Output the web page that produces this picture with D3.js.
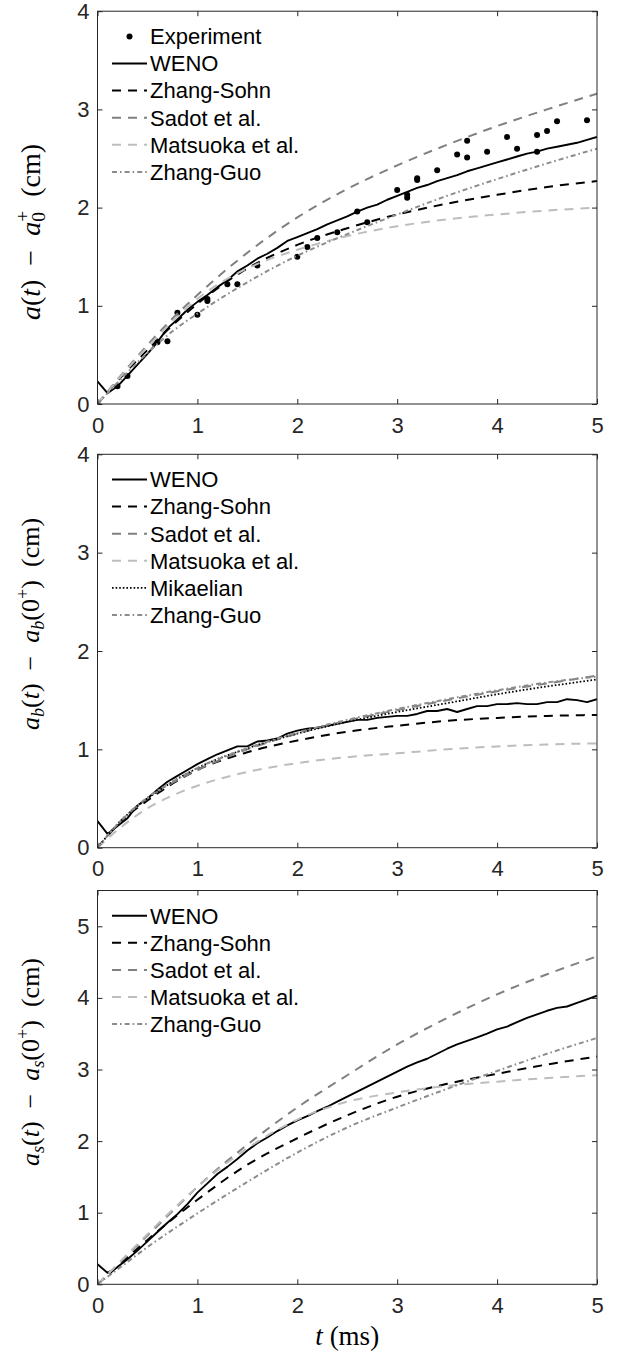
<!DOCTYPE html>
<html>
<head>
<meta charset="utf-8">
<script src="https://cdn.jsdelivr.net/npm/d3@7"></script>
<style>
  body { margin: 0; background: #fff; }
  svg { display: block; }
</style>
</head>
<body>
<svg id="chart" width="617" height="1356"></svg>
<script>
// ---------- data ----------
const xTicks = [0, 1, 2, 3, 4, 5];
const yTicks1 = [0, 1, 2, 3, 4];
const yTicks2 = [0, 1, 2, 3, 4];
const yTicks3 = [0, 1, 2, 3, 4, 5];

// time grid of the WENO simulations (ms)
const tWeno = [0,0.1,0.2,0.3,0.4,0.5,0.6,0.7,0.8,0.9,1.0,1.1,1.2,1.3,1.4,1.5,1.6,1.7,1.8,1.9,2.0,
  2.1,2.2,2.3,2.4,2.5,2.6,2.7,2.8,2.9,3.0,3.1,3.2,3.3,3.4,3.5,3.6,3.7,3.8,3.9,4.0,
  4.1,4.2,4.3,4.4,4.5,4.6,4.7,4.8,4.9,5.0];
// time grid of the model curves (ms)
const tModel = [0, 0.25, 0.5, 0.75, 1, 1.5, 2, 2.5, 3, 3.5, 4, 4.5, 5];

// panel 1: a(t) - a0+
const expT = [0,0.2,0.3,0.6,0.7,0.8,1.0,1.1,1.1,1.3,1.4,1.6,2.0,2.1,2.2,2.4,2.6,2.7,3.0,3.1,3.1,3.2,3.2,3.4,3.6,3.7,3.7,3.9,4.1,4.2,4.4,4.4,4.5,4.6,4.9];
const expV = [0,0.18,0.285,0.63,0.64,0.93,0.91,1.07,1.05,1.22,1.22,1.41,1.50,1.60,1.69,1.75,1.96,1.85,2.18,2.13,2.10,2.30,2.28,2.38,2.54,2.68,2.51,2.57,2.72,2.60,2.74,2.57,2.78,2.88,2.89];
const weno1 = [0.23,0.11,0.18,0.29,0.40,0.51,0.63,0.77,0.86,0.96,1.04,1.11,1.19,1.26,1.35,1.41,1.48,1.53,1.59,1.66,1.70,
  1.74,1.78,1.83,1.87,1.91,1.96,2.00,2.03,2.08,2.12,2.16,2.20,2.23,2.27,2.30,2.33,2.37,2.40,2.43,2.46,
  2.49,2.52,2.55,2.57,2.60,2.62,2.64,2.66,2.69,2.72];
const zhangSohn1 = [0,0.29,0.55,0.80,1.02,1.38,1.62,1.79,1.93,2.04,2.13,2.21,2.27];
const sadot1     = [0,0.31,0.60,0.87,1.11,1.54,1.90,2.19,2.43,2.64,2.83,3.00,3.16];
const matsuoka1  = [0,0.30,0.58,0.84,1.07,1.38,1.57,1.71,1.81,1.88,1.93,1.97,2.00];
const zhangGuo1  = [0,0.27,0.52,0.74,0.92,1.24,1.51,1.73,1.93,2.12,2.29,2.45,2.60];

// panel 2: ab(t) - ab(0+)
const weno2 = [0.27,0.14,0.22,0.30,0.43,0.50,0.59,0.67,0.73,0.79,0.85,0.90,0.95,0.99,1.03,1.03,1.08,1.09,1.11,1.16,1.19,
  1.21,1.22,1.24,1.26,1.28,1.30,1.30,1.32,1.33,1.34,1.34,1.36,1.39,1.39,1.41,1.38,1.41,1.44,1.44,1.46,
  1.46,1.47,1.46,1.46,1.48,1.48,1.51,1.50,1.48,1.51];
const zhangSohn2 = [0,0.28,0.48,0.65,0.79,0.97,1.09,1.18,1.24,1.29,1.32,1.34,1.35];
const sadot2     = [0,0.29,0.50,0.66,0.79,1.00,1.16,1.29,1.40,1.50,1.59,1.67,1.75];
const matsuoka2  = [0,0.22,0.40,0.53,0.63,0.77,0.86,0.92,0.96,1.00,1.03,1.05,1.06];
const mikaelian2 = [0,0.29,0.50,0.67,0.81,1.01,1.16,1.28,1.38,1.47,1.56,1.64,1.71];
const zhangGuo2  = [0,0.29,0.51,0.67,0.81,1.01,1.17,1.30,1.41,1.51,1.60,1.68,1.74];

// panel 3: as(t) - as(0+)
const weno3 = [0.28,0.16,0.24,0.35,0.47,0.60,0.73,0.86,0.98,1.12,1.28,1.41,1.54,1.64,1.75,1.87,1.97,2.05,2.14,2.22,2.29,
  2.35,2.42,2.48,2.55,2.62,2.69,2.76,2.83,2.90,2.97,3.04,3.10,3.15,3.22,3.29,3.35,3.40,3.45,3.50,3.56,
  3.60,3.66,3.72,3.77,3.82,3.86,3.88,3.93,3.98,4.03];
const zhangSohn3 = [0,0.31,0.62,0.91,1.18,1.67,2.04,2.36,2.62,2.80,2.94,3.07,3.18];
const sadot3     = [0,0.34,0.68,1.02,1.36,1.95,2.47,2.92,3.35,3.72,4.05,4.33,4.58];
const matsuoka3  = [0,0.35,0.70,1.04,1.36,1.90,2.30,2.55,2.68,2.77,2.83,2.88,2.92];
const zhangGuo3  = [0,0.26,0.52,0.76,0.99,1.43,1.84,2.19,2.47,2.73,2.98,3.22,3.44];

// ---------- styles ----------
const styles = {
  'WENO':            { color: '#000000', dash: null,        width: 1.9, curve: d3.curveLinear },
  'Zhang-Sohn':      { color: '#000000', dash: '9,7',       width: 2.0, curve: d3.curveMonotoneX },
  'Sadot et al.':    { color: '#808080', dash: '9,7',       width: 2.0, curve: d3.curveMonotoneX },
  'Matsuoka et al.': { color: '#bdbdbd', dash: '9,7',       width: 2.0, curve: d3.curveMonotoneX },
  'Mikaelian':       { color: '#000000', dash: '1.6,2',     width: 1.8, curve: d3.curveMonotoneX },
  'Zhang-Guo':       { color: '#8c8c8c', dash: '5,3,1.6,3', width: 2.0, curve: d3.curveMonotoneX }
};

const AXIS = '#262626';
const SANS = '"Liberation Sans", Arial, Helvetica, sans-serif';
const SERIF = '"Liberation Serif", "Times New Roman", serif';
const TICK_FONT = '22px';

const svg = d3.select('#chart');
const x = d3.scaleLinear().domain([0, 5]).range([97.5, 597]);

const panels = [
  { top: 11.2, bottom: 404, ymax: 4, yTicks: yTicks1, exp: true,
    label: 'a0', labelY: 232, labelX: 39.5, labelSize: 28,
    series: [
      ['WENO', tWeno, weno1], ['Zhang-Sohn', tModel, zhangSohn1], ['Sadot et al.', tModel, sadot1],
      ['Matsuoka et al.', tModel, matsuoka1], ['Zhang-Guo', tModel, zhangGuo1]
    ] },
  { top: 454.3, bottom: 847.7, ymax: 4, yTicks: yTicks2, exp: false,
    label: 'b', labelY: 624, labelX: 39, labelSize: 26,
    series: [
      ['WENO', tWeno, weno2], ['Zhang-Sohn', tModel, zhangSohn2], ['Sadot et al.', tModel, sadot2],
      ['Matsuoka et al.', tModel, matsuoka2], ['Mikaelian', tModel, mikaelian2], ['Zhang-Guo', tModel, zhangGuo2]
    ] },
  { top: 890.5, bottom: 1284.3, ymax: 5.5, yTicks: yTicks3, exp: false,
    label: 's', labelY: 1062, labelX: 39, labelSize: 26,
    series: [
      ['WENO', tWeno, weno3], ['Zhang-Sohn', tModel, zhangSohn3], ['Sadot et al.', tModel, sadot3],
      ['Matsuoka et al.', tModel, matsuoka3], ['Zhang-Guo', tModel, zhangGuo3]
    ] }
];

panels.forEach((p, pi) => {
  const y = d3.scaleLinear().domain([0, p.ymax]).range([p.bottom, p.top]);
  const g = svg.append('g');
  const clipId = 'clip' + pi;
  svg.append('clipPath').attr('id', clipId).append('rect')
    .attr('x', x(0)).attr('y', p.top).attr('width', x(5) - x(0)).attr('height', p.bottom - p.top);

  // curves
  const plot = g.append('g').attr('clip-path', `url(#${clipId})`);
  if (p.exp) {
    plot.selectAll('circle.exp').data(expT.map((t, i) => [t, expV[i]])).join('circle')
      .attr('class', 'exp').attr('cx', d => x(d[0])).attr('cy', d => y(d[1])).attr('r', 3)
      .attr('fill', '#000');
  }
  p.series.forEach(([name, ts, vs]) => {
    const s = styles[name];
    const line = d3.line().x(d => x(d[0])).y(d => y(d[1])).curve(s.curve);
    plot.append('path').datum(ts.map((t, i) => [t, vs[i]]))
      .attr('d', line).attr('fill', 'none').attr('stroke', s.color)
      .attr('stroke-width', s.width).attr('stroke-dasharray', s.dash)
      .attr('stroke-linejoin', 'round');
  });

  // axes: ticks inside on all four sides
  const styleAxis = sel => {
    sel.select('.domain').remove();
    sel.selectAll('.tick line').attr('stroke', AXIS).attr('stroke-width', 1);
    sel.selectAll('.tick text').attr('fill', AXIS).style('font-family', SANS).style('font-size', TICK_FONT);
  };
  g.append('g').attr('transform', `translate(0,${p.bottom})`)
    .call(d3.axisBottom(x).tickValues(xTicks).tickSize(-5).tickPadding(13).tickFormat(d3.format('d')))
    .call(styleAxis);
  g.append('g').attr('transform', `translate(0,${p.top})`)
    .call(d3.axisTop(x).tickValues(xTicks).tickSize(-5).tickFormat(''))
    .call(styleAxis);
  g.append('g').attr('transform', `translate(${x(0)},0)`)
    .call(d3.axisLeft(y).tickValues(p.yTicks).tickSize(-5).tickPadding(8).tickFormat(d3.format('d')))
    .call(styleAxis);
  g.append('g').attr('transform', `translate(${x(5)},0)`)
    .call(d3.axisRight(y).tickValues(p.yTicks).tickSize(-5).tickFormat(''))
    .call(styleAxis);
  g.append('rect').attr('x', x(0)).attr('y', p.top).attr('width', x(5) - x(0)).attr('height', p.bottom - p.top)
    .attr('fill', 'none').attr('stroke', AXIS).attr('stroke-width', 1);

  // legend
  const leg = g.append('g');
  const entries = (p.exp ? ['Experiment'] : []).concat(p.series.map(s => s[0]));
  entries.forEach((name, i) => {
    const base = p.top + 33 + 27.1 * i;
    const cy = base - 7.8;
    if (name === 'Experiment') {
      leg.append('circle').attr('cx', 129.5).attr('cy', cy).attr('r', 3).attr('fill', '#000');
    } else {
      const s = styles[name];
      leg.append('line').attr('x1', 112).attr('x2', 147).attr('y1', cy).attr('y2', cy)
        .attr('stroke', s.color).attr('stroke-width', s.width).attr('stroke-dasharray', s.dash);
    }
    leg.append('text').attr('x', 150).attr('y', base).text(name)
      .attr('fill', '#000').style('font-family', SANS).style('font-size', TICK_FONT);
  });

  // y label (rotated)
  const fs = p.labelSize;
  const small = Math.round(fs * 0.7 * 10) / 10;
  const t = g.append('text')
    .attr('transform', `translate(${p.labelX},${p.labelY}) rotate(-90)`)
    .attr('text-anchor', 'middle')
    .style('font-family', SERIF).style('font-size', fs + 'px').attr('fill', '#000');
  const it = (txt, o = {}) => {
    const ts = t.append('tspan').text(txt);
    if (o.italic) ts.style('font-style', 'italic');
    if (o.small) ts.style('font-size', small + 'px');
    if (o.dx) ts.attr('dx', o.dx);
    if (o.dy) ts.attr('dy', o.dy);
    return ts;
  };
  const sub = fs * 0.21, sup = fs * 0.38;
  if (p.label === 'a0') {
    it('a', { italic: true }); it('('); it('t', { italic: true }); it(')');
    it('\u2002\u2212\u2002');
    it('a', { italic: true });
    it('0', { small: true, dy: sub });
    it('+', { small: true, dx: -small * 0.5, dy: -(sub + sup) });
    it('\u2002(cm)', { dy: sup });
  } else {
    const s = p.label;
    it('a', { italic: true }); it(s, { italic: true, small: true, dy: sub });
    it('(', { dy: -sub }); it('t', { italic: true }); it(')');
    it('\u2002\u2212\u2002');
    it('a', { italic: true }); it(s, { italic: true, small: true, dy: sub });
    it('(0', { dy: -sub }); it('+', { small: true, dy: -sup }); it(')', { dy: sup });
    it('\u2002(cm)');
  }
});

// x label
const xl = svg.append('text').attr('x', (x(0) + x(5)) / 2).attr('y', 1345).attr('text-anchor', 'middle')
  .style('font-family', SERIF).style('font-size', '27px').attr('fill', '#000');
xl.append('tspan').style('font-style', 'italic').text('t');
xl.append('tspan').text(' (ms)');
</script>
</body>
</html>
